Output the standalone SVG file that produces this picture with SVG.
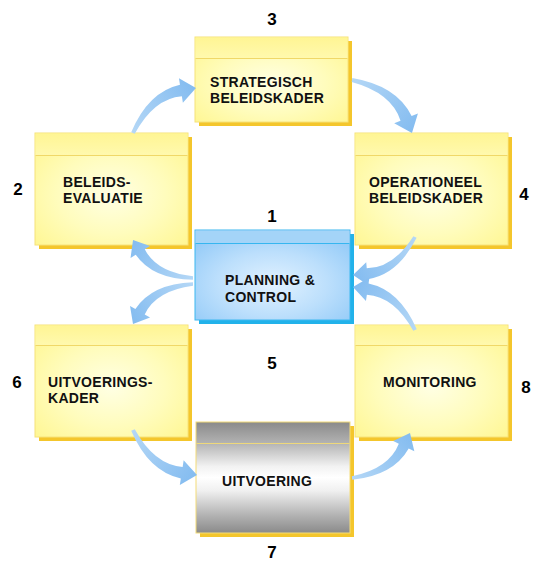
<svg xmlns="http://www.w3.org/2000/svg" xmlns:xlink="http://www.w3.org/1999/xlink" width="533" height="563" viewBox="0 0 533 563">
<style>
.lbl{font-family:"Liberation Sans",Arial,sans-serif;font-weight:bold;font-size:14px;fill:#111;letter-spacing:0.3px}
.num{font-family:"Liberation Sans",Arial,sans-serif;font-weight:bold;font-size:17px;fill:#000}
.ysh{fill:#F4C62C}
.ybody{fill:url(#yBody);stroke:#F6E27A;stroke-width:1}
.yhead{fill:url(#yHead)}
.yline{stroke:#F0D868;stroke-width:1.2}
</style>
<defs>
<radialGradient id="yBody" cx="50%" cy="55%" r="65%">
<stop offset="0" stop-color="#FFFFE4"/>
<stop offset="0.55" stop-color="#FFFCBC"/>
<stop offset="1" stop-color="#FFF796"/>
</radialGradient>
<linearGradient id="yHead" x1="0" y1="0" x2="0" y2="1">
<stop offset="0" stop-color="#FFF594"/>
<stop offset="1" stop-color="#FFF9AE"/>
</linearGradient>
<radialGradient id="bBody" cx="50%" cy="60%" r="65%">
<stop offset="0" stop-color="#E2F2FF"/>
<stop offset="0.55" stop-color="#BCDFFC"/>
<stop offset="1" stop-color="#96CCF8"/>
</radialGradient>
<linearGradient id="gBody" x1="0" y1="0" x2="0" y2="1">
<stop offset="0" stop-color="#8A8A8A"/>
<stop offset="0.18" stop-color="#B0B0B0"/>
<stop offset="0.4" stop-color="#F2F2F2"/>
<stop offset="0.5" stop-color="#FFFFFF"/>
<stop offset="0.62" stop-color="#F0F0F0"/>
<stop offset="0.85" stop-color="#B0B0B0"/>
<stop offset="1" stop-color="#8A8A8A"/>
</linearGradient>
<linearGradient id="aGrad" gradientUnits="userSpaceOnUse" x1="0" y1="0" x2="76" y2="0">
<stop offset="0" stop-color="#B4D7F6"/>
<stop offset="1" stop-color="#84BCF0"/>
</linearGradient>
<path id="arrow" fill="url(#aGrad)" d="M1,1.6 Q36.3,-15.8 60.1,-1.6 L57.2,4.2 L76,0 L68,-17.6 L65.1,-11.8 Q35.7,-24.2 -1,-1.6 Z"/>
</defs>
<rect width="533" height="563" fill="#FFFFFF"/>

<g id="node-3">
<rect class="ysh" x="199" y="41" width="153" height="85"/>
<rect class="ybody" x="195" y="37" width="153" height="85"/>
<rect class="yhead" x="195.5" y="37.5" width="152" height="21"/>
<line class="yline" x1="195.5" y1="58.5" x2="347.5" y2="58.5"/>
<text class="lbl" x="210" y="87">STRATEGISCH</text>
<text class="lbl" x="210" y="103">BELEIDSKADER</text>
<text class="num" x="272" y="25" text-anchor="middle">3</text>
</g>

<g id="node-2">
<rect class="ysh" x="39" y="137" width="153" height="112"/>
<rect class="ybody" x="35" y="133" width="153" height="112"/>
<rect class="yhead" x="35.5" y="133.5" width="152" height="22"/>
<line class="yline" x1="35.5" y1="155.5" x2="187.5" y2="155.5"/>
<text class="lbl" x="63" y="187">BELEIDS-</text>
<text class="lbl" x="63" y="203">EVALUATIE</text>
<text class="num" x="18" y="195" text-anchor="middle">2</text>
</g>

<g id="node-4">
<rect class="ysh" x="359" y="137" width="153" height="112"/>
<rect class="ybody" x="355" y="133" width="153" height="112"/>
<rect class="yhead" x="355.5" y="133.5" width="152" height="22"/>
<line class="yline" x1="355.5" y1="155.5" x2="507.5" y2="155.5"/>
<text class="lbl" x="369" y="187">OPERATIONEEL</text>
<text class="lbl" x="369" y="203">BELEIDSKADER</text>
<text class="num" x="524" y="200" text-anchor="middle">4</text>
</g>

<g id="node-1">
<rect x="199" y="234" width="155" height="90" fill="#22B2EA"/>
<rect x="195" y="230" width="155" height="90" fill="url(#bBody)" stroke="#3CB8F0" stroke-width="1"/>
<rect x="195.5" y="230.5" width="154" height="13" fill="#A4D4F8"/>
<line x1="195.5" y1="243.5" x2="349.5" y2="243.5" stroke="#36B6F0" stroke-width="1.2"/>
<text class="lbl" x="225" y="285">PLANNING &amp;</text>
<text class="lbl" x="225" y="302">CONTROL</text>
<text class="num" x="272" y="222" text-anchor="middle">1</text>
<text class="num" x="272" y="369" text-anchor="middle">5</text>
</g>

<g id="node-6">
<rect class="ysh" x="39" y="329" width="153" height="112"/>
<rect class="ybody" x="35" y="325" width="153" height="112"/>
<rect class="yhead" x="35.5" y="325.5" width="152" height="20"/>
<line class="yline" x1="35.5" y1="345.5" x2="187.5" y2="345.5"/>
<text class="lbl" x="48" y="387">UITVOERINGS-</text>
<text class="lbl" x="48" y="403">KADER</text>
<text class="num" x="17" y="388" text-anchor="middle">6</text>
</g>

<g id="node-8">
<rect class="ysh" x="359" y="329" width="153" height="112"/>
<rect class="ybody" x="355" y="325" width="153" height="112"/>
<rect class="yhead" x="355.5" y="325.5" width="152" height="20"/>
<line class="yline" x1="355.5" y1="345.5" x2="507.5" y2="345.5"/>
<text class="lbl" x="383" y="387">MONITORING</text>
<text class="num" x="526" y="393" text-anchor="middle">8</text>
</g>

<g id="node-7">
<rect class="ysh" x="200" y="426" width="154" height="111"/>
<rect x="196" y="422" width="154" height="111" fill="url(#gBody)" stroke="#F4DC78" stroke-width="1"/>
<line x1="196.5" y1="443.5" x2="349.5" y2="443.5" stroke="#EED87A" stroke-width="1.2"/>
<text class="lbl" x="222" y="486">UITVOERING</text>
<text class="num" x="272" y="558" text-anchor="middle">7</text>
</g>

<g id="connectors">
<use xlink:href="#arrow" transform="translate(133 133) rotate(-35.5) scale(1.018)"/>
<use xlink:href="#arrow" transform="translate(352 80) rotate(41.46) scale(1.053)"/>
<use xlink:href="#arrow" transform="translate(193 278) rotate(-147.65) scale(0.934)"/>
<use xlink:href="#arrow" transform="translate(193 284) rotate(146.3) scale(0.949 -0.949)"/>
<use xlink:href="#arrow" transform="translate(415 237) rotate(148.5) scale(0.957)"/>
<use xlink:href="#arrow" transform="translate(415 330) rotate(-145.25) scale(0.993 -0.993)"/>
<use xlink:href="#arrow" transform="translate(133 430) rotate(35.1) scale(1.029 -1.029)"/>
<use xlink:href="#arrow" transform="translate(352 478) rotate(-37.8) scale(0.966 -0.966)"/>
</g>
</svg>
